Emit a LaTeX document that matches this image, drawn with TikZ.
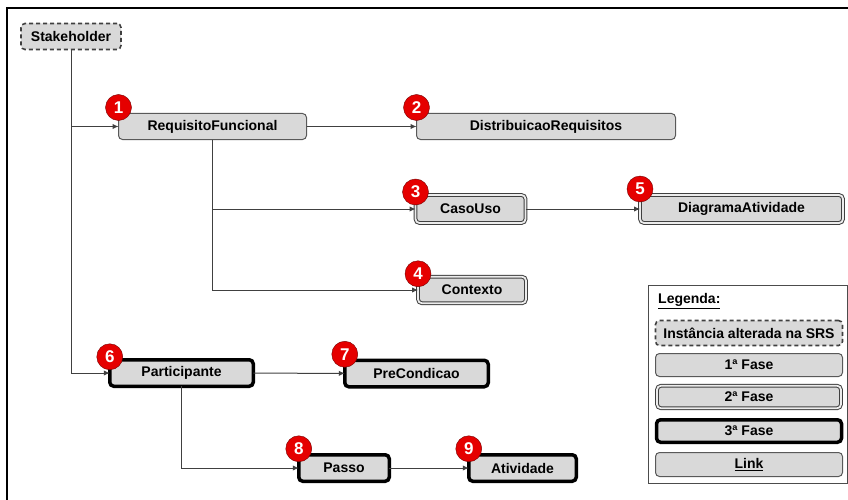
\documentclass[tikz,border=0pt]{standalone}
\usepackage{fontspec}
\setmainfont{Liberation Sans}
\usetikzlibrary{arrows.meta}

\begin{document}
\begin{tikzpicture}[x=1pt,y=-1pt]
	  \useasboundingbox (0,0) rectangle (848,500);
	  \tikzset{BoxStyle/.style = {rectangle,
	  								  rounded corners = 4pt,
	  								  fill           = gray!30,
	  								  text           = black,
									  inner sep      = 0pt,
	                                 outer sep      = 0pt,
	                                 font           = \fontsize{14}{16}\selectfont\bfseries}}

	  \tikzset{SRSStyle/.style = {BoxStyle,
	  								  draw           = black!75,
	  								  line width     = 1.6pt,
	  								  dash pattern   = on 4pt off 3pt}}

	  \tikzset{FaseUmStyle/.style = {BoxStyle,
	  								  draw           = black!65,
	  								  line width     = 1pt}}

	  \tikzset{FaseDoisStyle/.style = {BoxStyle,
	  								  draw           = black!75,
	  								  line width     = 1pt,
	  								  double         = gray!15,
	  								  double distance = 1.8pt}}

	  \tikzset{FaseTresStyle/.style = {BoxStyle,
	  								  draw           = black,
	  								  line width     = 3.5pt}}

	  \tikzset{BadgeStyle/.style = {shape 		= circle,
	  								  fill		= red!90!black,
	  								  draw		= red!45!black,
	  								  text		= white,
									  inner sep		= 0pt,
	                                 minimum size	= 26pt,
	                                 font		= \fontsize{17}{17}\selectfont\bfseries}}

	  \tikzset{EdgeStyle/.style   = {draw = black!75, line width = 1pt,
	                                 -{Latex[length=6pt,width=5.5pt]}}}

	  % moldura
	  \draw[line width=2.7pt] (7,500) -- (7,8) -- (848,8);

	     \node[SRSStyle, minimum width=100pt, minimum height=26pt](Stakeholder) at (71,36.5) {Stakeholder};
	     \node[FaseUmStyle, minimum width=188pt, minimum height=26pt](ReqFunc) at (212.5,126.5) {RequisitoFuncional};
	     \node[FaseUmStyle, minimum width=259pt, minimum height=26pt](DistReq) at (546,126.5) {DistribuicaoRequisitos};
	     \node[FaseDoisStyle, minimum width=110pt, minimum height=28pt](CasoUso) at (470.5,209) {CasoUso};
	     \node[FaseDoisStyle, minimum width=203pt, minimum height=28pt](DiagAtiv) at (741.5,209) {DiagramaAtividade};
	     \node[FaseDoisStyle, minimum width=108pt, minimum height=26.5pt](Contexto) at (472,290) {Contexto};
	     \node[FaseTresStyle, minimum width=143.5pt, minimum height=26.5pt](Participante) at (181.5,373) {Participante};
	     \node[FaseTresStyle, minimum width=143.5pt, minimum height=26.5pt](PreCond) at (416.5,373.5) {PreCondicao};
	     \node[FaseTresStyle, minimum width=90.5pt, minimum height=26.5pt](Passo) at (344,468) {Passo};
	     \node[FaseTresStyle, minimum width=107.5pt, minimum height=26.5pt](Atividade) at (522.5,468) {Atividade};

	     \node[BadgeStyle](N_1) at ([yshift=6pt]ReqFunc.north west) {1};
	     \node[BadgeStyle](N_2) at ([yshift=6pt]DistReq.north west) {2};
	     \node[BadgeStyle](N_3) at ([yshift=3pt]CasoUso.north west) {3};
	     \node[BadgeStyle](N_4) at ([yshift=3pt]Contexto.north west) {4};
	     \node[BadgeStyle](N_5) at ([yshift=6pt]DiagAtiv.north west) {5};
	     \node[BadgeStyle](N_6) at ([yshift=3pt]Participante.north west) {6};
	     \node[BadgeStyle](N_7) at ([yshift=6pt]PreCond.north west) {7};
	     \node[BadgeStyle](N_8) at ([yshift=6pt]Passo.north west) {8};
	     \node[BadgeStyle](N_9) at ([yshift=6pt]Atividade.north west) {9};

	     \draw[EdgeStyle](Stakeholder.south) |- (ReqFunc.west);
	     \draw[EdgeStyle](Stakeholder.south) |- (Participante.west);
	     \draw[EdgeStyle](ReqFunc) -- (DistReq);
	     \draw[EdgeStyle](ReqFunc.south) |- (CasoUso.west);
	     \draw[EdgeStyle](ReqFunc.south) |- (Contexto.west);
	     \draw[EdgeStyle](CasoUso) -- (DiagAtiv);
	     \draw[EdgeStyle](Participante) -- (PreCond);
	     \draw[EdgeStyle](Participante.south) |- (Passo.west);
	     \draw[EdgeStyle](Passo) -- (Atividade);

	  % legenda
	     \draw[draw=black!70, line width=1pt] (648,285) rectangle (847,483);
	     \node[anchor=west, inner sep=0pt, font=\fontsize{14}{16}\selectfont\bfseries](Legenda) at (658,301) {\underline{Legenda:}};
	     \node[SRSStyle, minimum width=187pt, minimum height=25pt](L_srs) at (749,333) {Instância alterada na SRS};
	     \node[FaseUmStyle, minimum width=187pt, minimum height=23pt](L_1) at (749,365) {1ª Fase};
	     \node[FaseDoisStyle, minimum width=184pt, minimum height=22.5pt](L_2) at (749,397) {2ª Fase};
	     \node[FaseTresStyle, minimum width=185pt, minimum height=22.5pt](L_3) at (749,431) {3ª Fase};
	     \node[FaseUmStyle, minimum width=187pt, minimum height=24pt](L_link) at (749,464.5) {\underline{Link}};

	  \end{tikzpicture}
\end{document}
